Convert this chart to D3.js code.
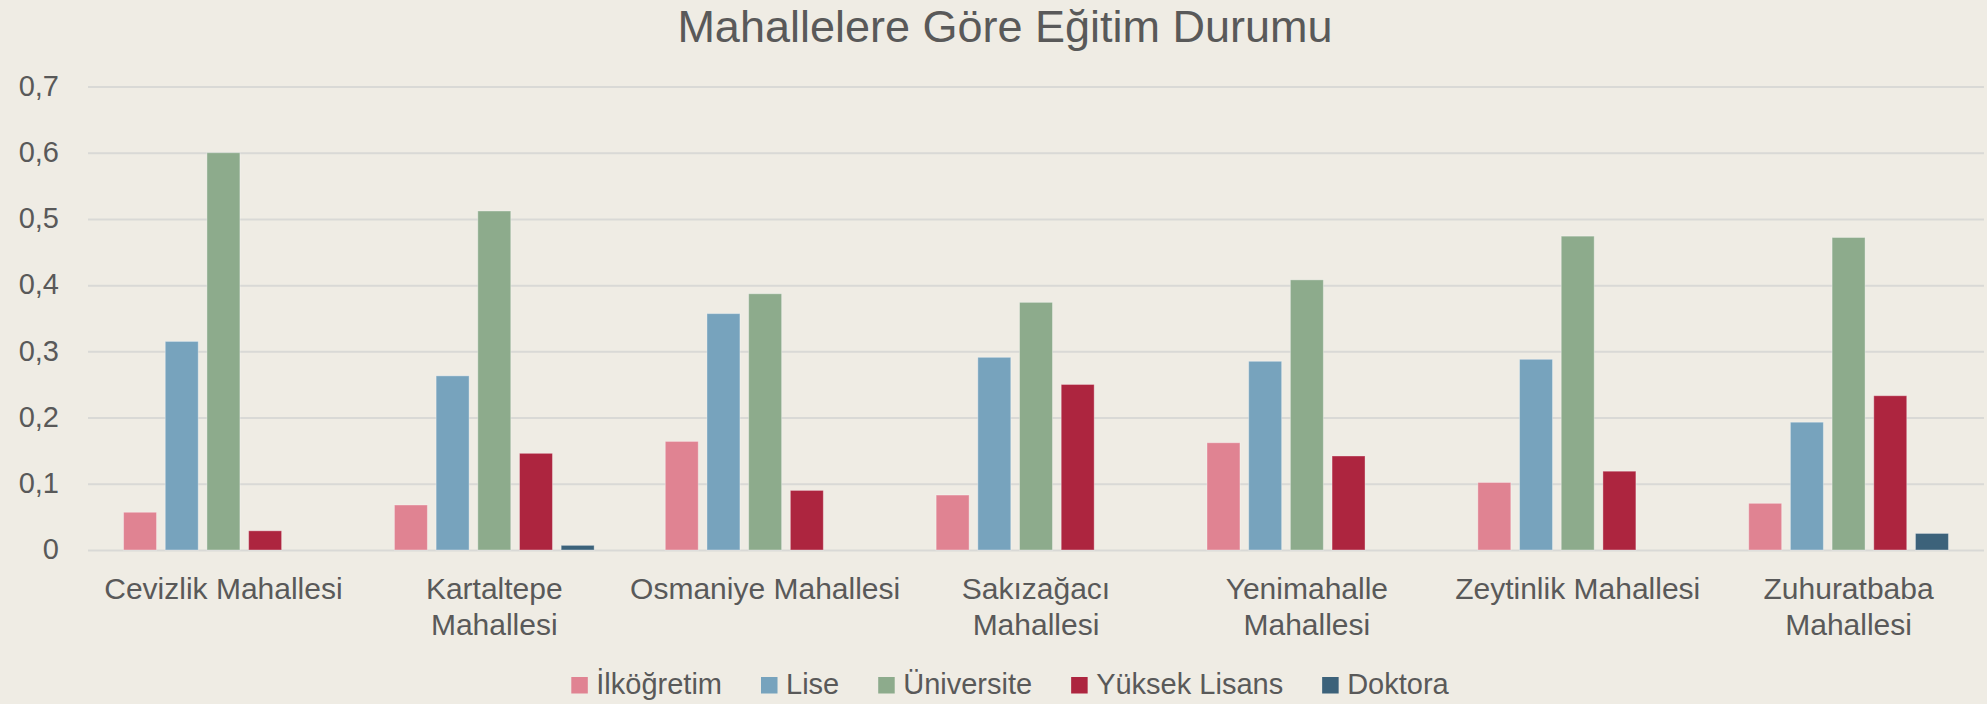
<!DOCTYPE html>
<html>
<head>
<meta charset="utf-8">
<script src="https://cdn.jsdelivr.net/npm/d3@7"></script>
<style>
  html, body { margin: 0; padding: 0; background: #efece4; }
  svg { display: block; font-family: "Liberation Sans", Arial, sans-serif; }
</style>
</head>
<body>
<svg id="chart" width="1987" height="704"></svg>
<script>
// mahalleler ve egitim oranlari
const categories = ['Cevizlik Mahallesi', 'Kartaltepe Mahallesi', 'Osmaniye Mahallesi',
    'Sakızağacı Mahallesi', 'Yenimahalle Mahallesi', 'Zeytinlik Mahallesi', 'Zuhuratbaba Mahallesi']
const seriesNames = ['İlköğretim', 'Lise', 'Üniversite', 'Yüksek Lisans', 'Doktora']
const ilkogretim   = [0.057, 0.068, 0.164, 0.083, 0.162, 0.102, 0.0705]
const lise         = [0.315, 0.263, 0.357, 0.291, 0.285, 0.288, 0.193]
const universite   = [0.600, 0.512, 0.387, 0.374, 0.408, 0.474, 0.472]
const yuksekLisans = [0.029, 0.146, 0.090, 0.250, 0.142, 0.119, 0.233]
const doktora      = [0, 0.007, 0, 0, 0, 0, 0.025]
const yTicks = [0, 0.1, 0.2, 0.3, 0.4, 0.5, 0.6, 0.7]
const colors = ['#e08392', '#77a3bd', '#8dab8c', '#ad253f', '#3c627a']

const values = [ilkogretim, lise, universite, yuksekLisans, doktora]
const rows = categories.map((c, i) => ({
    cat: c,
    vals: seriesNames.map((s, j) => ({key: s, value: values[j][i], color: colors[j]}))
}))

const plotLeft = 88, plotRight = 1984, plotTop = 86.5, plotBottom = 550
const textColor = '#595959'

const svg = d3.select('#chart')

const x0 = d3.scaleBand().domain(categories).range([plotLeft, plotRight]).padding(0)
const x1 = d3.scaleBand().domain(seriesNames).range([0, x0.bandwidth()])
    .paddingInner(0.209).paddingOuter(0.853)
const y = d3.scaleLinear().domain([0, 0.7]).range([plotBottom, plotTop])

const tr = d3.formatLocale({decimal: ',', thousands: '.', grouping: [3], currency: ['', '₺']})
const fmt = tr.format('.1~f')

/**
 * grid lines
 */
svg.append('g')
    .attr('transform', `translate(${plotLeft},0)`)
    .call(d3.axisLeft(y).tickValues(yTicks).tickSize(-(plotRight - plotLeft)).tickFormat(''))
    .call(g => g.select('.domain').remove())
    .call(g => g.selectAll('line').attr('stroke', '#d9d9d6').attr('stroke-width', 2))

// y labels
svg.append('g')
    .attr('transform', 'translate(59,0)')
    .call(d3.axisLeft(y).tickValues(yTicks).tickSize(0).tickPadding(0).tickFormat(fmt))
    .call(g => g.select('.domain').remove())
    .call(g => g.selectAll('text')
        .attr('fill', textColor)
        .style('font-size', '29px')
        .style('font-family', '"Liberation Sans", Arial, sans-serif')
        .attr('dy', '0.3em'))

/**
 * bars
 */
svg.append('g')
    .selectAll('g')
    .data(rows)
    .enter()
    .append('g')
        .attr('transform', d => `translate(${x0(d.cat)},0)`)
    .selectAll('rect')
    .data(d => d.vals)
    .enter()
    .append('rect')
        .attr('x', d => x1(d.key))
        .attr('width', x1.bandwidth())
        .attr('y', d => y(d.value))
        .attr('height', d => y(0) - y(d.value))
        .style('fill', d => d.color)
        .style('stroke', 'rgba(255,255,255,0.35)')
        .style('stroke-width', 1)

// category labels, wrap if wider than the band
const catG = svg.append('g')
    .style('font-size', '30px')
    .attr('fill', textColor)
categories.forEach(c => {
    let cx = x0(c) + x0.bandwidth() / 2
    let t = catG.append('text')
        .attr('x', cx)
        .attr('y', 599)
        .attr('text-anchor', 'middle')
        .text(c)
    if (t.node().getComputedTextLength() > x0.bandwidth()) {
        let words = c.split(' ')
        let last = words.pop()
        t.text(words.join(' '))
        catG.append('text')
            .attr('x', cx)
            .attr('y', 635)
            .attr('text-anchor', 'middle')
            .text(last)
    }
})

// title
svg.append('text')
    .attr('x', 1005)
    .attr('y', 42)
    .attr('text-anchor', 'middle')
    .attr('fill', textColor)
    .style('font-size', '45px')
    .text('Mahallelere Göre Eğitim Durumu')

/**
 * legend
 */
const leg = svg.append('g').style('font-size', '29px')
let items = seriesNames.map((s, i) => {
    let g = leg.append('g')
    g.append('rect').attr('x', 0).attr('y', -17).attr('width', 16.5).attr('height', 16.5)
        .style('fill', colors[i])
    let t = g.append('text').attr('x', 25).attr('y', 0).attr('fill', textColor).text(s)
    return {g: g, w: 25 + t.node().getComputedTextLength()}
})
let gap = 39
let total = d3.sum(items, d => d.w) + gap * (items.length - 1)
let lx = 1010 - total / 2
items.forEach(it => {
    it.g.attr('transform', `translate(${lx},694)`)
    lx += it.w + gap
})
</script>
</body>
</html>
